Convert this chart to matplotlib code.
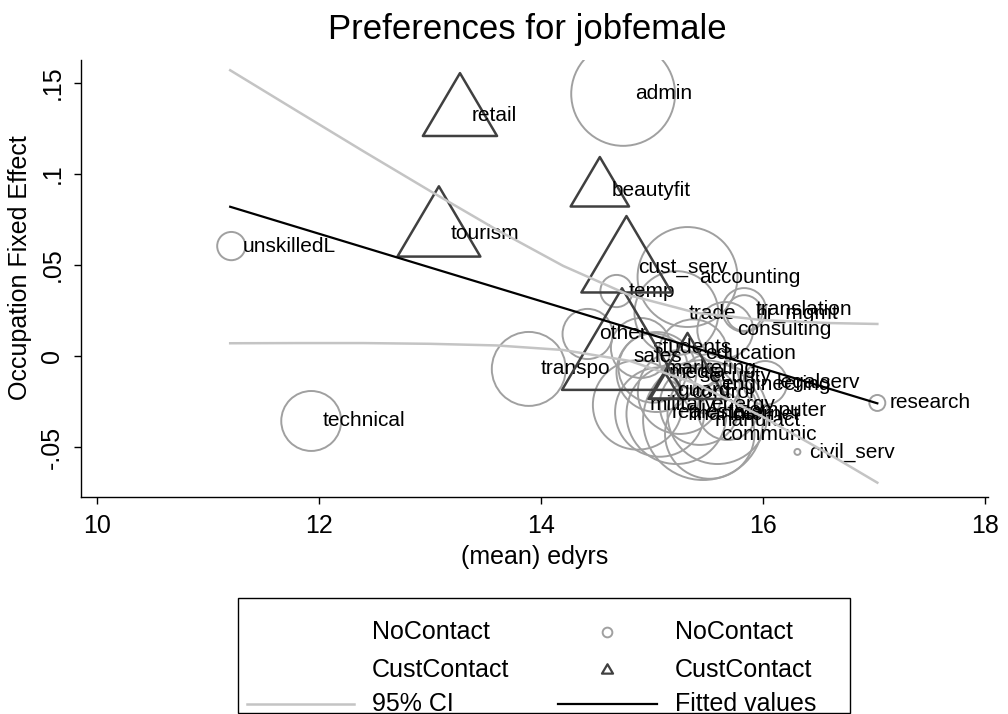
import matplotlib.pyplot as plt
from matplotlib.path import Path
from matplotlib.lines import Line2D

plt.rcParams['font.family'] = ['Liberation Sans', 'DejaVu Sans']

# occupations without customer contact (hollow circles, weighted)
nc_names = ['admin', 'unskilledL', 'technical', 'transpo', 'other', 'temp',
            'accounting', 'trade', 'translation', 'hr_mgmt', 'consulting',
            'students', 'education', 'marketing', 'media', 'engineering',
            'legalserv', 'control', 'military', 'energy', 'computer',
            'internet', 'finance', 'realestate', 'manufact', 'communic',
            'civil_serv', 'research']
nc_edyrs = [14.74, 11.21, 11.93, 13.89, 14.42, 14.68,
            15.32, 15.22, 15.83, 15.83, 15.66,
            14.90, 15.37, 15.01, 15.04, 15.52,
            16.02, 15.25, 14.87, 15.43, 15.68,
            15.59, 15.22, 15.07, 15.46, 15.52,
            16.31, 17.03]
nc_fe = [0.144, 0.0604, -0.0357, -0.0071, 0.0121, 0.0357,
         0.0434, 0.0236, 0.0253, 0.0236, 0.0143,
         0.0044, 0.0011, -0.0066, -0.0088, -0.0154,
         -0.0148, -0.0198, -0.0269, -0.0269, -0.0297,
         -0.0319, -0.0319, -0.0308, -0.0352, -0.0429,
         -0.0527, -0.0258]
nc_weight = [27, 2.0, 9, 13.7, 6.3, 2.6,
             25, 17.6, 4.8, 3.2, 7.8,
             9, 12, 12, 16, 9,
             4.8, 17.6, 20, 16, 9,
             25, 25, 20, 36, 20,
             0.09, 0.64]

# occupations with customer contact (hollow triangles, weighted)
cc_names = ['retail', 'beautyfit', 'tourism', 'cust_serv', 'sales',
            'security', 'guard']
cc_edyrs = [13.27, 14.53, 13.08, 14.77, 14.73, 15.32, 15.12]
cc_fe = [0.1324, 0.0912, 0.0675, 0.0489, 0.0000, -0.0115, -0.0187]
cc_weight = [17.6, 10.9, 22, 26, 46, 19.4, 2.9]

# linear fit and 95% CI
fit_x = [11.2, 17.03]
fit_y = [0.082, -0.026]
ci_x = [11.2, 11.8, 12.4, 13.0, 13.6, 14.2, 14.8, 15.4, 16.0, 16.6, 17.03]
ci_upper = [0.1570, 0.1347, 0.1125, 0.0907, 0.0694, 0.0495, 0.0333,
            0.0237, 0.0197, 0.0181, 0.0176]
ci_lower = [0.0070, 0.0071, 0.0071, 0.0067, 0.0058, 0.0033, -0.0027,
            -0.0153, -0.0335, -0.0541, -0.0696]

W, H = 1008, 714
SIZE_SCALE = 207.0
NC_COLOR = '#a0a0a0'
CC_COLOR = '#404040'
CI_COLOR = '#c4c4c4'
BIG = 18

tri = Path([(0, 1), (-0.885, -0.5), (0.885, -0.5), (0, 1)], closed=True)

fig = plt.figure(figsize=(W / 100, H / 100), dpi=100)
ax = fig.add_axes([81 / W, (H - 497) / H, (988 - 81) / W, (497 - 60) / H])

ax.scatter(nc_edyrs, nc_fe, s=[w * SIZE_SCALE for w in nc_weight],
           facecolors='none', edgecolors=NC_COLOR, linewidths=1.4, zorder=2)
for n, x, y in zip(nc_names, nc_edyrs, nc_fe):
    ax.annotate(n, (x, y), xytext=(8.5, 0), textcoords='offset points',
                ha='left', va='center', fontsize=15, zorder=3)

ax.scatter(cc_edyrs, cc_fe, s=[w * SIZE_SCALE for w in cc_weight], marker=tri,
           facecolors='none', edgecolors=CC_COLOR, linewidths=1.8, zorder=4)
for n, x, y in zip(cc_names, cc_edyrs, cc_fe):
    ax.annotate(n, (x, y), xytext=(8.5, 0), textcoords='offset points',
                ha='left', va='center', fontsize=15, zorder=5)

ax.plot(ci_x, ci_upper, color=CI_COLOR, lw=1.8, zorder=6)
ax.plot(ci_x, ci_lower, color=CI_COLOR, lw=1.8, zorder=6)
ax.plot(fit_x, fit_y, color='black', lw=1.6, zorder=7)

ax.set_xlim(10 + (81 - 97) / 111, 10 + (988 - 97) / 111)
ax.set_ylim((356 - 497) / 1820, (356 - 60) / 1820)
ax.set_xticks([10, 12, 14, 16, 18])
ax.set_yticks([-0.05, 0, 0.05, 0.1, 0.15])
ax.set_yticklabels(['-.05', '0', '.05', '.1', '.15'], rotation=90, va='center')
ax.tick_params(direction='out', length=5, width=1, labelsize=BIG, pad=7)
for side in ['top', 'right']:
    ax.spines[side].set_visible(False)
for side in ['left', 'bottom']:
    ax.spines[side].set_linewidth(1)

fig.text(527 / W, 1 - 29 / H, 'Preferences for jobfemale', fontsize=25,
         ha='center', va='center')
fig.text(535 / W, 1 - 557 / H, '(mean) edyrs', fontsize=BIG,
         ha='center', va='center')
fig.text(20 / W, 1 - 268 / H, 'Occupation Fixed Effect', fontsize=BIG,
         ha='center', va='center', rotation=90)

# legend drawn in pixel coordinates
lg = fig.add_axes([0, 0, 1, 1], zorder=10)
lg.set_xlim(0, W)
lg.set_ylim(H, 0)
lg.axis('off')
lg.add_patch(plt.Rectangle((238, 598), 612, 115, fill=False, ec='black', lw=1))
rows = [632, 670, 704]
lg.text(372, rows[0], 'NoContact', fontsize=BIG, va='center')
lg.text(372, rows[1], 'CustContact', fontsize=BIG, va='center')
lg.text(372, rows[2], '95% CI', fontsize=BIG, va='center')
lg.add_line(Line2D([247, 354], [rows[2], rows[2]], color=CI_COLOR, lw=1.8))
lg.plot([607], [rows[0]], marker='o', ms=7, mfc='none', mec=NC_COLOR, mew=1.4)
lg.plot([607], [rows[1]], marker=tri, ms=9, mfc='none', mec=CC_COLOR, mew=1.6)
lg.add_line(Line2D([558, 657], [rows[2], rows[2]], color='black', lw=1.6))
lg.text(675, rows[0], 'NoContact', fontsize=BIG, va='center')
lg.text(675, rows[1], 'CustContact', fontsize=BIG, va='center')
lg.text(675, rows[2], 'Fitted values', fontsize=BIG, va='center')

fig.savefig('out.png', dpi=100)
